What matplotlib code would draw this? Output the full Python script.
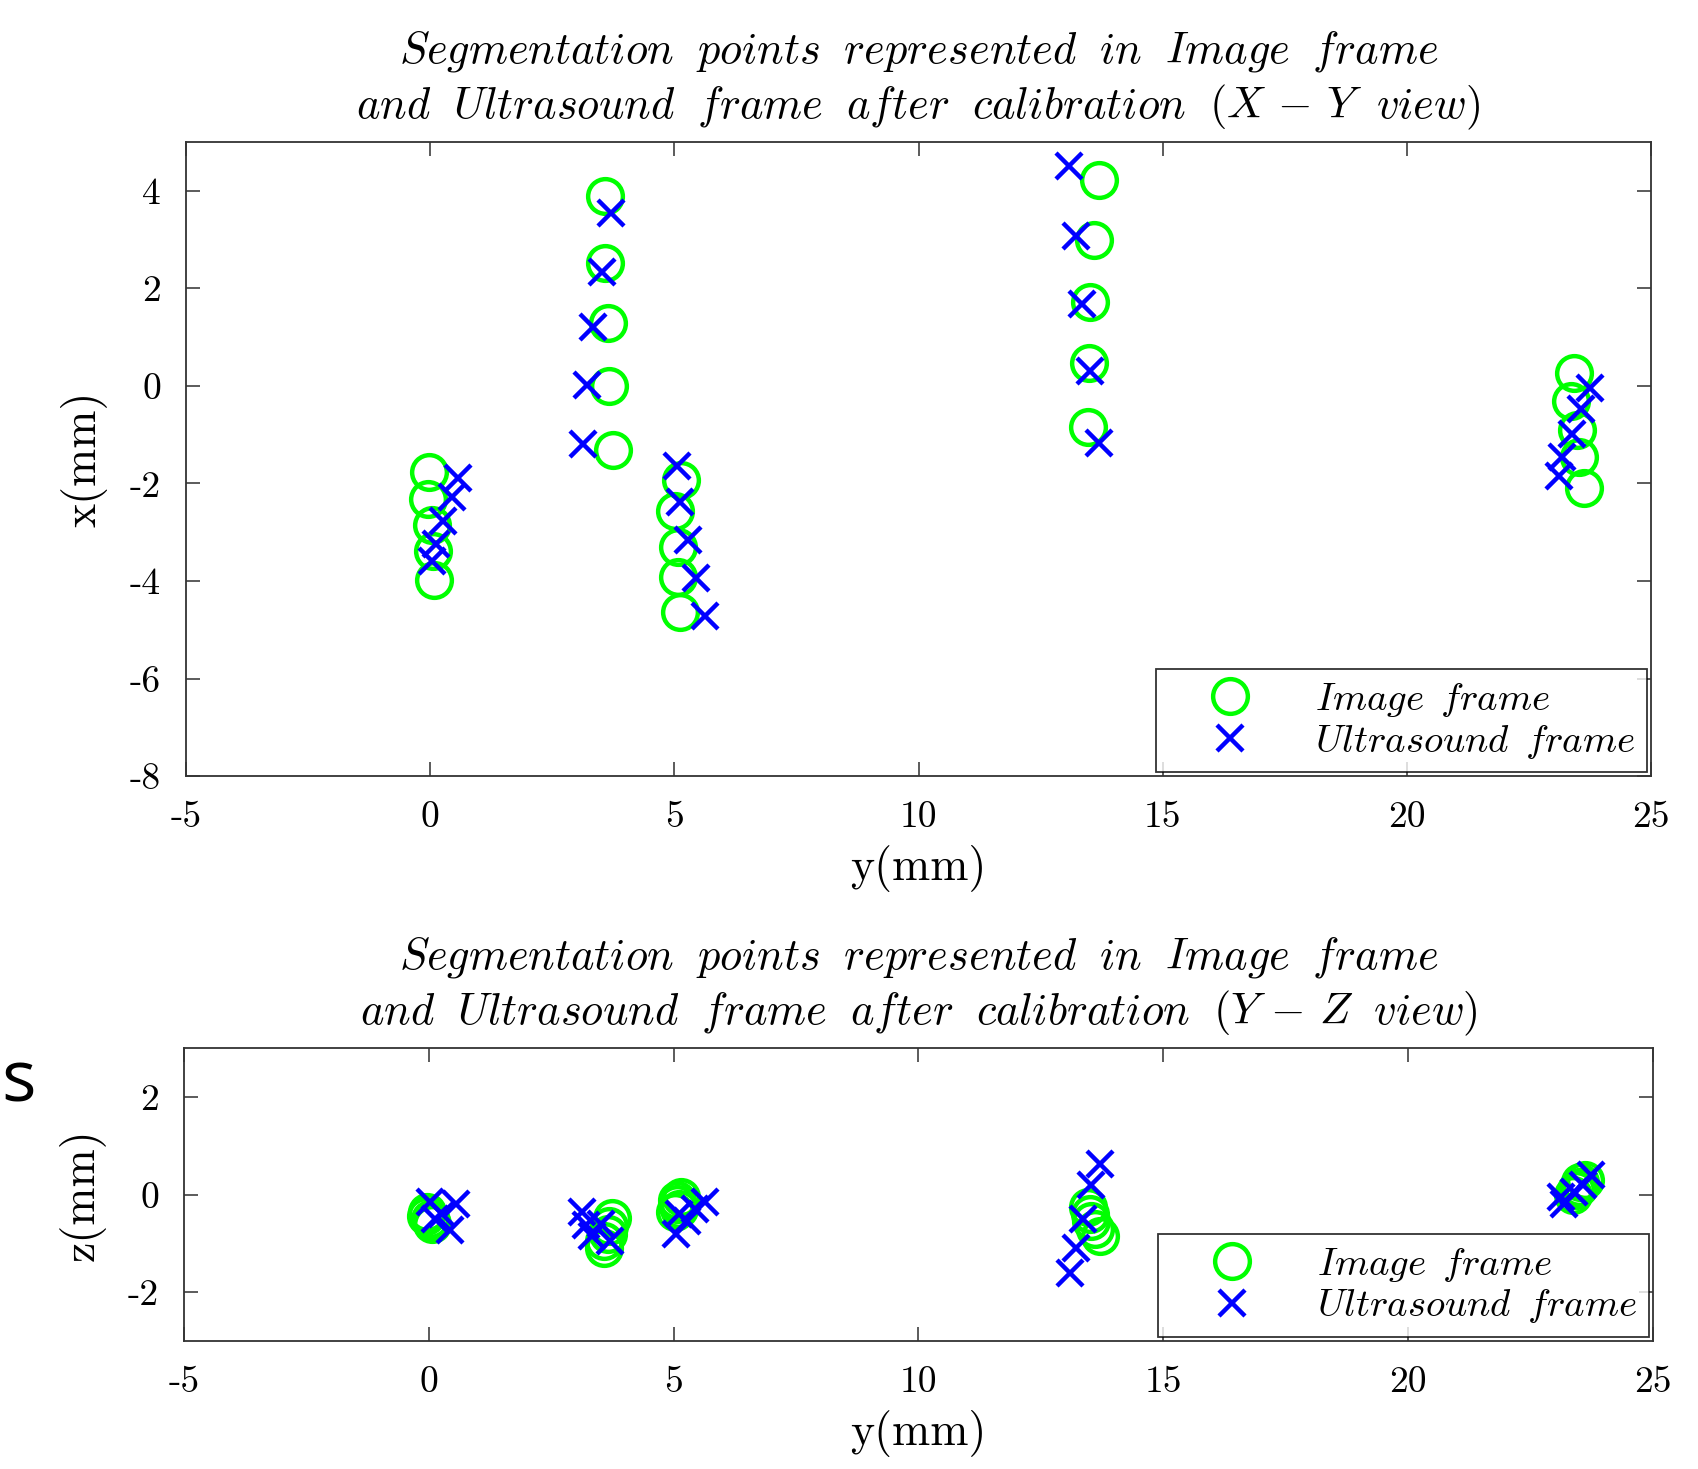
import matplotlib
matplotlib.use('Agg')
from matplotlib import pyplot as plt

plt.rcParams['font.family'] = 'cmr10'
plt.rcParams['mathtext.fontset'] = 'cm'
plt.rcParams['axes.unicode_minus'] = False
plt.rcParams['axes.formatter.use_mathtext'] = False

# image frame points (circles)
img_y = [-0.03, -0.05, 0.03, 0.05, 0.07,
         3.58, 3.58, 3.65, 3.67, 3.74,
         5.14, 5.02, 5.07, 5.07, 5.11,
         13.70, 13.60, 13.52, 13.50, 13.47,
         23.43, 23.37, 23.48, 23.52, 23.62]
img_x = [-1.77, -2.31, -2.85, -3.38, -3.98,
         3.90, 2.53, 1.30, 0.00, -1.32,
         -1.93, -2.56, -3.30, -3.91, -4.64,
         4.22, 3.00, 1.72, 0.47, -0.85,
         0.27, -0.30, -0.91, -1.46, -2.09]
img_z = [-0.35, -0.45, -0.50, -0.55, -0.60,
         -1.10, -0.95, -0.80, -0.65, -0.48,
         -0.05, -0.35, -0.20, -0.12, -0.30,
         -0.85, -0.70, -0.55, -0.40, -0.25,
         0.10, 0.00, 0.15, 0.25, 0.30]

# ultrasound frame points (crosses)
us_y = [0.56, 0.44, 0.26, 0.12, 0.03,
        3.70, 3.52, 3.34, 3.21, 3.12,
        5.05, 5.11, 5.27, 5.44, 5.63,
        13.09, 13.22, 13.35, 13.52, 13.70,
        23.74, 23.57, 23.38, 23.18, 23.12]
us_x = [-1.88, -2.28, -2.77, -3.24, -3.58,
        3.54, 2.34, 1.20, 0.02, -1.19,
        -1.64, -2.39, -3.16, -3.93, -4.72,
        4.51, 3.07, 1.68, 0.31, -1.17,
        -0.05, -0.47, -0.99, -1.45, -1.85]
us_z = [-0.20, -0.72, -0.40, -0.50, -0.15,
        -0.95, -0.60, -0.85, -0.62, -0.35,
        -0.80, -0.40, -0.55, -0.30, -0.15,
        -1.60, -1.10, -0.50, 0.20, 0.63,
        0.40, 0.20, 0.05, -0.20, -0.05]


def mtext(s, sp=r'\ \;'):
    return '$' + s.replace(' ', sp) + '$'


titles = [mtext('Segmentation points represented in Image frame') + '\n' +
          mtext(r'and Ultrasound frame after calibration (X\,-\,Y view)'),
          mtext('Segmentation points represented in Image frame') + '\n' +
          mtext(r'and Ultrasound frame after calibration (Y\,-\,Z view)')]


def style_axes(ax):
    ax.tick_params(direction='in', top=True, right=True, length=10,
                   width=1.2, labelsize=27, pad=18, color='#404040')
    for s in ax.spines.values():
        s.set_linewidth(1.3)
        s.set_color('#333333')
    ax.set_xlim(-5, 25)
    ax.set_xticks([-5, 0, 5, 10, 15, 20, 25])


def draw(ax, vals_img, vals_us, title, ylabel):
    ax.plot(img_y, vals_img, 'o', mfc='none', mec=(0, 1, 0), ms=25, mew=3.2,
            label=mtext('Image frame', r'\ \,'))
    ax.plot(us_y, vals_us, 'x', color=(0, 0, 1), ms=19, mew=3.2,
            label=mtext('Ultrasound frame', r'\ \,'))
    style_axes(ax)
    ax.set_title(title, fontsize=32, pad=17, linespacing=1.24)
    ax.set_xlabel('y(mm)', fontsize=33, labelpad=8)
    ax.set_ylabel(ylabel, fontsize=33, labelpad=16)
    leg = ax.legend(loc='lower right', fontsize=28, frameon=True, fancybox=False,
                    borderaxespad=0.1, handletextpad=0.6, borderpad=0.3,
                    labelspacing=0.1, handlelength=3.2)
    leg.get_frame().set_edgecolor('black')
    leg.get_frame().set_linewidth(1.3)


fig = plt.figure(figsize=(16.99, 14.69), dpi=100)
ax1 = fig.add_axes([0.1095, 0.4717, 0.8623, 0.4316])
ax2 = fig.add_axes([0.1083, 0.0871, 0.8646, 0.1995])

draw(ax1, img_x, us_x, titles[0], 'x(mm)')
ax1.set_ylim(-8, 5)
ax1.set_yticks([-8, -6, -4, -2, 0, 2, 4])

draw(ax2, img_z, us_z, titles[1], 'z(mm)')
ax2.set_ylim(-3, 3)
ax2.set_yticks([-2, 0, 2])

fig.text(0.001, 1 - 1083 / 1469, 's', fontsize=52, family='Open Sans',
         ha='left', va='center')

fig.savefig('out.png', dpi=100)
